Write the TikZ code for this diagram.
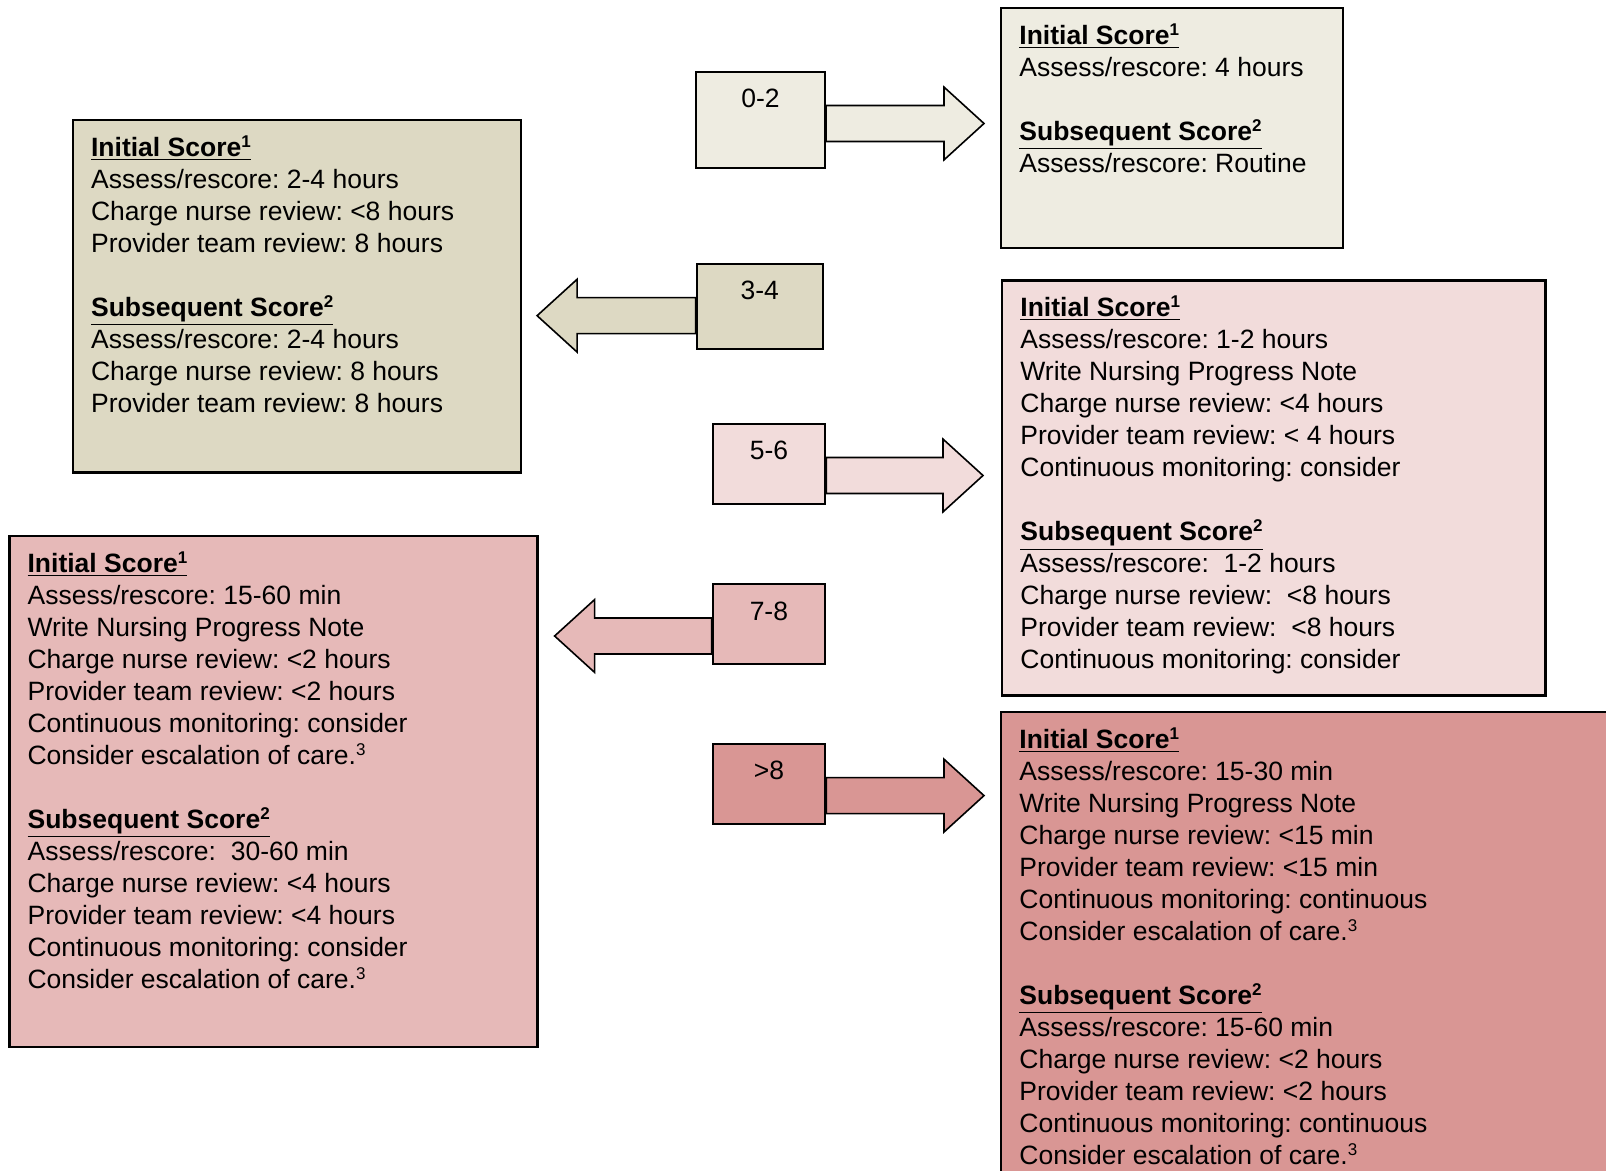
\documentclass[tikz,border=0pt]{standalone}
\usepackage{fontspec}
\setmainfont{Liberation Sans}
\usetikzlibrary{calc,positioning,backgrounds}
\frenchspacing

\definecolor{tanlight}{HTML}{EEECE1}
\definecolor{tandark}{HTML}{DDD9C3}
\definecolor{rosepale}{HTML}{F2DCDB}
\definecolor{roselight}{HTML}{E6B9B8}
\definecolor{rosemid}{HTML}{D99694}

\newcommand{\sups}[1]{\raisebox{0.33em}{\fontsize{8.5}{8.5}\selectfont #1}}
\newcommand{\iniscore}{\rule{0pt}{18.5pt}\underline{\textbf{Initial Score\sups{1}}}}
\newcommand{\subscore}{\underline{\textbf{Subsequent Score\sups{2}}}}

\tikzset{
score_box/.style={
	% The shape:
	rectangle, anchor=north west,
	% The border:
	draw=black, line width=1.2pt,
	inner sep=0pt
},
range_box/.style={
	% The shape:
	rectangle, anchor=north west,
	% The border:
	draw=black, line width=1pt,
	inner sep=0pt,
	% Font, label 18pt below the top
	font=\fontsize{13.25}{16}\selectfont,
	text height=18pt
},
score_text/.style={
	anchor=north west, inner sep=0pt, align=left,
	font=\fontsize{13.25}{16}\selectfont
},
block arrow/.style={
	draw=black, line width=0.8pt,
	to path={
		let \p1=(\tikztostart), \p2=(\tikztotarget),
		\p3=($(\p2)!20pt!(\p1)$) in
		(\x1,\y1+9pt) -- (\x3,\y1+9pt) -- (\x3,\y1+18.2pt) -- (\p2)
		-- (\x3,\y1-18.2pt) -- (\x3,\y1-9pt) -- (\x1,\y1-9pt) -- cycle
	}
}
}

\begin{document}
\begin{tikzpicture}[x=0.5pt, y=-0.5pt]
\useasboundingbox (0,0) rectangle (1606,1171);
\clip (0,0) rectangle (1606,1171);

% score boxes
\node[score_box, fill=tanlight, minimum width=170.8pt, minimum height=119.9pt] (rA) at (1000,7) {};
\node[score_box, fill=tandark, minimum width=224pt, minimum height=176.2pt] (rB) at (71.7,118.8) {};
\node[score_box, fill=rosepale, minimum width=271.6pt, minimum height=207.5pt] (rC) at (1001,279.3) {};
\node[score_box, fill=roselight, minimum width=264pt, minimum height=255.5pt] (rD) at (8.2,534.6) {};
\node[score_box, fill=rosemid, minimum width=320pt, minimum height=250pt] (rE) at (1000,710.8) {};

\node[score_text] (tA) at ($(rA.north west)+(9.5pt,0)$) {\iniscore\\
	Assess/rescore: 4 hours\\[16pt]
	\subscore\\
	Assess/rescore: Routine};
\node[score_text] (tB) at ($(rB.north west)+(9.5pt,0)$) {\iniscore\\
	Assess/rescore: 2-4 hours\\
	Charge nurse review: <8 hours\\
	Provider team review: 8 hours\\[16pt]
	\subscore\\
	Assess/rescore: 2-4 hours\\
	Charge nurse review: 8 hours\\
	Provider team review: 8 hours};
\node[score_text] (tC) at ($(rC.north west)+(9.5pt,0)$) {\iniscore\\
	Assess/rescore: 1-2 hours\\
	Write Nursing Progress Note\\
	Charge nurse review: <4 hours\\
	Provider team review: < 4 hours\\
	Continuous monitoring: consider\\[16pt]
	\subscore\\
	Assess/rescore:~ 1-2 hours\\
	Charge nurse review:~ <8 hours\\
	Provider team review:~ <8 hours\\
	Continuous monitoring: consider};
\node[score_text] (tD) at ($(rD.north west)+(9.5pt,0)$) {\iniscore\\
	Assess/rescore: 15-60 min\\
	Write Nursing Progress Note\\
	Charge nurse review: <2 hours\\
	Provider team review: <2 hours\\
	Continuous monitoring: consider\\
	Consider escalation of care.\sups{3}\\[16pt]
	\subscore\\
	Assess/rescore:~ 30-60 min\\
	Charge nurse review: <4 hours\\
	Provider team review: <4 hours\\
	Continuous monitoring: consider\\
	Consider escalation of care.\sups{3}};
\node[score_text] (tE) at ($(rE.north west)+(9.5pt,0)$) {\iniscore\\
	Assess/rescore: 15-30 min\\
	Write Nursing Progress Note\\
	Charge nurse review: <15 min\\
	Provider team review: <15 min\\
	Continuous monitoring: continuous\\
	Consider escalation of care.\sups{3}\\[16pt]
	\subscore\\
	Assess/rescore: 15-60 min\\
	Charge nurse review: <2 hours\\
	Provider team review: <2 hours\\
	Continuous monitoring: continuous\\
	Consider escalation of care.\sups{3}};

% range boxes
\node[range_box, fill=tanlight, minimum width=64.5pt, minimum height=47.9pt, text depth=29.9pt] (s02) at (695,71) {0-2};
\node[range_box, fill=tandark, minimum width=63pt, minimum height=42.8pt, text depth=24.8pt] (s34) at (695.7,262.7) {3-4};
\node[range_box, fill=rosepale, minimum width=56.3pt, minimum height=40pt, text depth=22pt] (s56) at (711.7,422.7) {5-6};
\node[range_box, fill=roselight, minimum width=56.2pt, minimum height=39.7pt, text depth=21.7pt] (s78) at (711.7,583.3) {7-8};
\node[range_box, fill=rosemid, minimum width=56.3pt, minimum height=40.3pt, text depth=22.3pt] (s9) at (711.7,742.7) {>8};

% arrows
\begin{scope}[on background layer]
\coordinate (a02) at ($(s02.east)+(0,-1.8pt)$);
\coordinate (a34) at ($(s34.west)+(0,-4.6pt)$);
\coordinate (a56) at ($(s56.east)+(0,-5.9pt)$);
\coordinate (a78) at ($(s78.west)+(0,-6pt)$);
\coordinate (a9) at ($(s9.east)+(0,-5.8pt)$);
\draw[block arrow, fill=tanlight] (a02) to ($(a02 -| rA.west)+(-8pt,0)$);
\draw[block arrow, fill=tandark] (a34) to ($(a34 -| rB.east)+(7.5pt,0)$);
\draw[block arrow, fill=rosepale] (a56) to ($(a56 -| rC.west)+(-9pt,0)$);
\draw[block arrow, fill=roselight] (a78) to ($(a78 -| rD.east)+(8pt,0)$);
\draw[block arrow, fill=rosemid] (a9) to ($(a9 -| rE.west)+(-8pt,0)$);
\end{scope}
\end{tikzpicture}
\end{document}
